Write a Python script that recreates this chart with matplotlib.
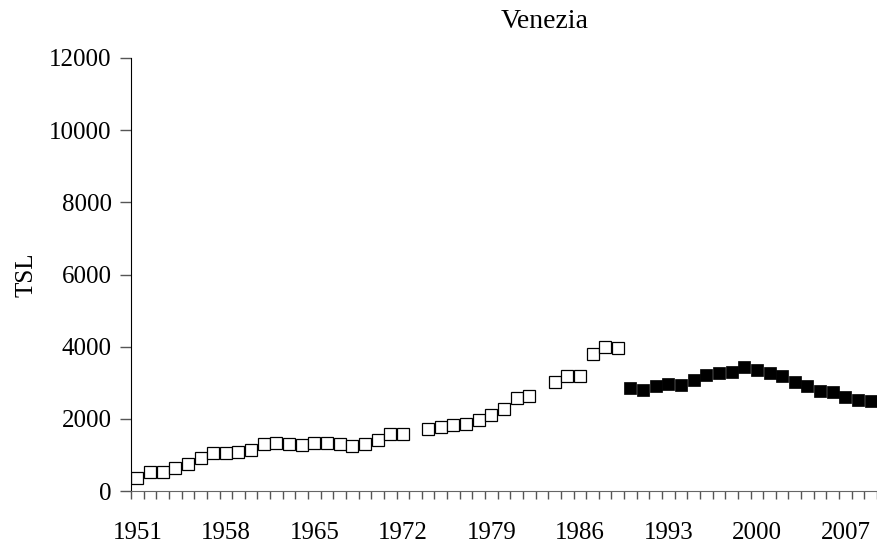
import matplotlib
matplotlib.use("Agg")

import matplotlib.pyplot as plt
import numpy as np

years = list(range(1951, 2010))

# open squares (1951-1989); 1973 and 1983 are missing
early_years = [1951, 1952, 1953, 1954, 1955, 1956, 1957, 1958, 1959, 1960,
               1961, 1962, 1963, 1964, 1965, 1966, 1967, 1968, 1969, 1970,
               1971, 1972, 1974, 1975, 1976, 1977, 1978, 1979, 1980, 1981,
               1982, 1984, 1985, 1986, 1987, 1988, 1989]
early_tsl = [350, 520, 540, 650, 750, 920, 1060, 1060, 1080, 1150,
             1290, 1320, 1310, 1280, 1320, 1320, 1310, 1250, 1310, 1410,
             1590, 1590, 1730, 1760, 1840, 1850, 1980, 2120, 2260, 2570,
             2620, 3030, 3190, 3190, 3810, 4000, 3960]

# filled squares (1990-2009)
late_years = list(range(1990, 2010))
late_tsl = [2850, 2810, 2910, 2960, 2930, 3070, 3220, 3270, 3310, 3440,
            3350, 3270, 3190, 3030, 2910, 2780, 2740, 2600, 2520, 2500]

yticks = [0, 2000, 4000, 6000, 8000, 10000, 12000]
label_years = [1951, 1958, 1965, 1972, 1979, 1986, 1993, 2000, 2007]

plt.rcParams["font.family"] = ["Liberation Serif", "DejaVu Serif"]

fig = plt.figure(figsize=(8.77, 5.49), dpi=100)
ax = fig.add_axes([131 / 877, 1 - 491 / 549, 746 / 877, 433 / 549])

xe = [y - years[0] for y in early_years]
xl = [y - years[0] for y in late_years]
ax.plot(xe, early_tsl, linestyle="none", marker="s", markersize=8.5,
        markerfacecolor="white", markeredgecolor="black", markeredgewidth=0.9)
ax.plot(xl, late_tsl, linestyle="none", marker="s", markersize=9,
        markerfacecolor="black", markeredgecolor="black", markeredgewidth=0.5)

ax.set_xlim(-0.5, len(years) - 0.5)
ax.set_ylim(0, 12000)

ax.set_xticks([y - years[0] for y in label_years])
ax.set_xticklabels([str(y) for y in label_years], fontsize=18)
ax.set_xticks(np.arange(len(years) + 1) - 0.5, minor=True)
ax.tick_params(axis="x", which="major", length=0, pad=22)
ax.tick_params(axis="x", which="minor", direction="out", length=6, width=1,
               color="#555555")

ax.set_yticks(yticks)
ax.set_yticklabels([str(v) for v in yticks], fontsize=18)
ax.tick_params(axis="y", direction="out", length=8, width=1, color="#555555",
               pad=6)

ax.spines["top"].set_visible(False)
ax.spines["right"].set_visible(False)
ax.spines["bottom"].set_color("#666666")
ax.spines["left"].set_color("black")

ax.set_ylabel("TSL", fontsize=18, labelpad=8)
fig.text(545 / 877, 1 - 22 / 549, "Venezia", fontsize=20, ha="center",
         va="center")

fig.savefig("out.png", dpi=100)
